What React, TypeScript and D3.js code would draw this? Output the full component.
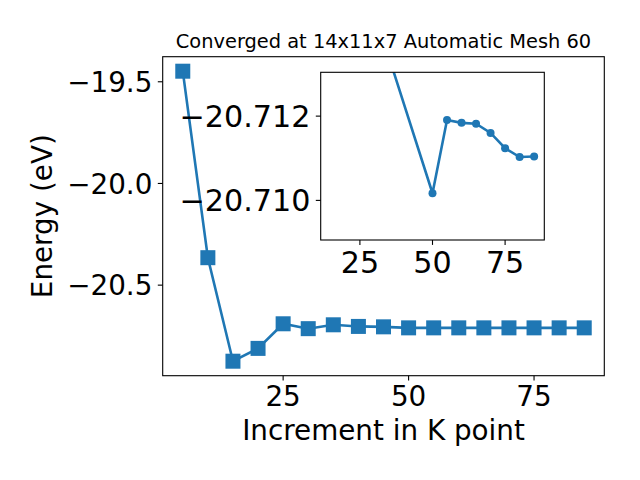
import React from "react";
import * as d3 from "d3";

const KPOINTS = [5, 10, 15, 20, 25, 30, 35, 40, 45, 50, 55, 60, 65, 70, 75, 80, 85];
const ENERGY = [
  -19.448, -20.365, -20.874, -20.811, -20.69, -20.714, -20.695, -20.703, -20.705,
  -20.71, -20.71, -20.71, -20.71, -20.71, -20.71, -20.71, -20.71,
];
const INSET_KPOINTS = [15, 35, 50, 55, 60, 65, 70, 75, 80, 85];
const INSET_ENERGY = [
  -20.874, -20.7134, -20.71017, -20.71191, -20.71184, -20.71182, -20.7116, -20.71124, -20.71103, -20.71104,
];
const MAIN_XTICKS = [25, 50, 75];
const MAIN_YTICKS = [-19.5, -20.0, -20.5];
const INSET_XTICKS = [25, 50, 75];
const INSET_YTICKS = [-20.712, -20.71];

const TITLE = "Converged at 14x11x7 Automatic Mesh 60";
const XLABEL = "Increment in K point";
const YLABEL = "Energy (eV)";

const BLUE = "#1f77b4";
const FONT = "DejaVu Sans, sans-serif";

const fmt = (v: number, d: number) => {
  const s = Math.abs(v).toFixed(d);
  return v < 0 ? "\u2212" + s : s;
};

export default function App() {
  const W = 640, H = 480;
  // main axes
  const L = 162.7, R = 604.3, T = 56.7, B = 375.7;
  const xMin = d3.min(KPOINTS)!, xMax = d3.max(KPOINTS)!;
  const yMin = d3.min(ENERGY)!, yMax = d3.max(ENERGY)!;
  const xPad = (xMax - xMin) * 0.05, yPad = (yMax - yMin) * 0.05;
  const x = d3.scaleLinear().domain([xMin - xPad, xMax + xPad]).range([L, R]);
  const y = d3.scaleLinear().domain([yMin - yPad, yMax + yPad]).range([B, T]);
  const line = d3.line<number>().x((_, i) => x(KPOINTS[i])).y((d) => y(d));

  // inset axes
  const iL = 320.7, iR = 544.3, iT = 72.3, iB = 240;
  const ixMin = d3.min(INSET_KPOINTS)!, ixMax = d3.max(INSET_KPOINTS)!;
  const ixPad = (ixMax - ixMin) * 0.05;
  const ix = d3.scaleLinear().domain([ixMin - ixPad, ixMax + ixPad]).range([iL, iR]);
  const iy = d3.scaleLinear().domain([-20.71304, -20.70906]).range([iT, iB]);
  const iline = d3.line<number>().x((_, i) => ix(INSET_KPOINTS[i])).y((d) => iy(d));

  const tickLen = 4.9;
  const tickFs = 27.8;
  const insetFs = 30.2;
  const ms = 15;

  return (
    <svg width={W} height={H} style={{ display: "block", margin: 0, position: "absolute", left: 0, top: 0 }} fontFamily={FONT}>
      <rect x={0} y={0} width={W} height={H} fill="white" />
      <defs>
        <clipPath id="insetclip">
          <rect x={iL} y={iT} width={iR - iL} height={iB - iT} />
        </clipPath>
      </defs>

      {/* main data */}
      <g>
        <path d={line(ENERGY)!} fill="none" stroke={BLUE} strokeWidth={2.6} />
        {ENERGY.map((e, i) => (
          <rect key={i} x={x(KPOINTS[i]) - ms / 2} y={y(e) - ms / 2} width={ms} height={ms} fill={BLUE} />
        ))}
      </g>

      {/* main frame */}
      <rect x={L} y={T} width={R - L} height={B - T} fill="none" stroke="black" strokeWidth={1.1} />
      {MAIN_XTICKS.map((t) => (
        <g key={t}>
          <line x1={x(t)} x2={x(t)} y1={B} y2={B + tickLen} stroke="black" strokeWidth={1.1} />
          <text x={x(t)} y={406} fontSize={tickFs} textAnchor="middle" fill="black">{t}</text>
        </g>
      ))}
      {MAIN_YTICKS.map((t) => (
        <g key={t}>
          <line x1={L - tickLen} x2={L} y1={y(t)} y2={y(t)} stroke="black" strokeWidth={1.1} />
          <text x={L - 2 * tickLen - 0.5} y={y(t) + 0.365 * tickFs} fontSize={tickFs} textAnchor="end" fill="black">{fmt(t, 1)}</text>
        </g>
      ))}
      <text x={(L + R) / 2} y={48} fontSize={19.4} textAnchor="middle" fill="black">{TITLE}</text>
      <text x={(L + R) / 2} y={440} fontSize={27.8} textAnchor="middle" fill="black">{XLABEL}</text>
      <text transform={`translate(52,${(T + B) / 2}) rotate(-90)`} fontSize={27.8} textAnchor="middle" fill="black">{YLABEL}</text>

      {/* inset */}
      <rect x={iL} y={iT} width={iR - iL} height={iB - iT} fill="white" />
      <g clipPath="url(#insetclip)">
        <path d={iline(INSET_ENERGY)!} fill="none" stroke={BLUE} strokeWidth={2.6} />
        {INSET_ENERGY.map((e, i) => (
          <circle key={i} cx={ix(INSET_KPOINTS[i])} cy={iy(e)} r={4} fill={BLUE} />
        ))}
      </g>
      <rect x={iL} y={iT} width={iR - iL} height={iB - iT} fill="none" stroke="black" strokeWidth={1.1} />
      {INSET_XTICKS.map((t) => (
        <g key={t}>
          <line x1={ix(t)} x2={ix(t)} y1={iB} y2={iB + tickLen} stroke="black" strokeWidth={1.1} />
          <text x={ix(t)} y={272.5} fontSize={insetFs} textAnchor="middle" fill="black">{t}</text>
        </g>
      ))}
      {INSET_YTICKS.map((t) => (
        <g key={t}>
          <line x1={iL - tickLen} x2={iL} y1={iy(t)} y2={iy(t)} stroke="black" strokeWidth={1.1} />
          <text x={iL - 2 * tickLen - 0.5} y={iy(t) + 0.365 * insetFs} fontSize={insetFs} textAnchor="end" fill="black">{fmt(t, 3)}</text>
        </g>
      ))}
    </svg>
  );
}
